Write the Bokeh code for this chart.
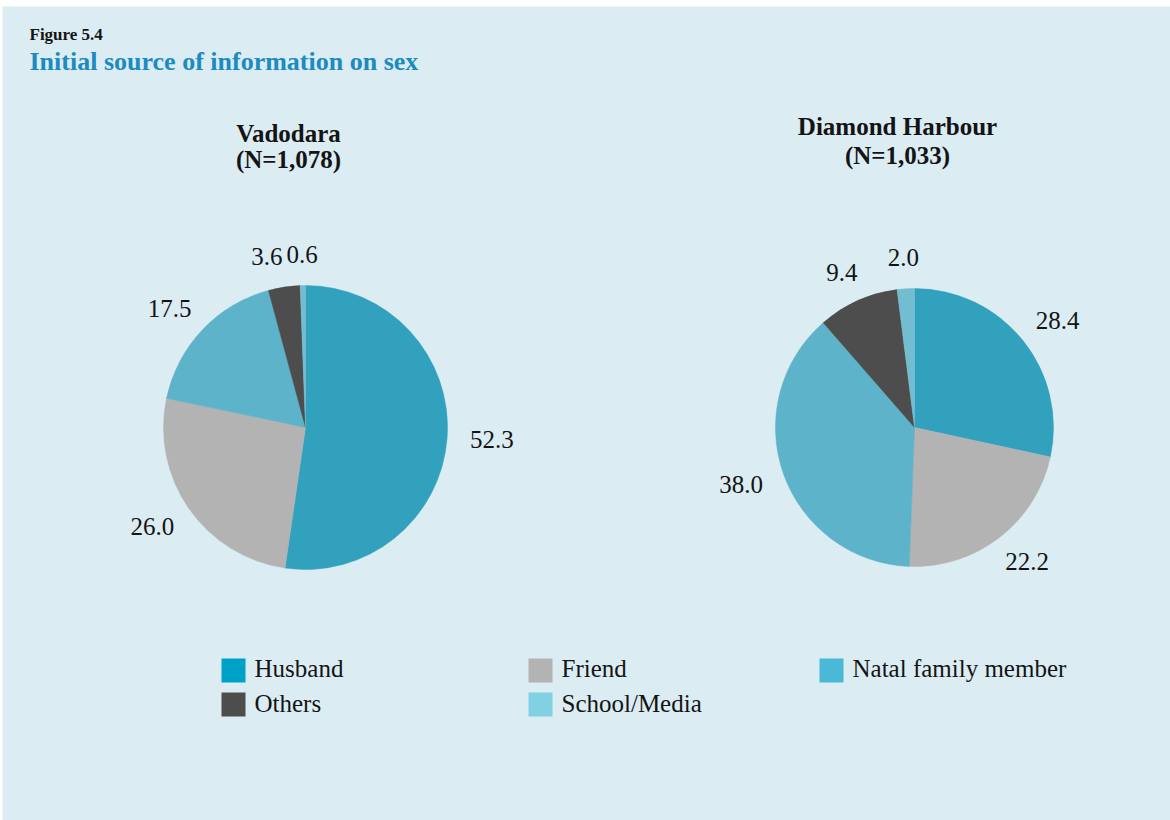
import math
from bokeh.plotting import figure
from bokeh.models import Range1d, ColumnDataSource
from bokeh.core.properties import value
from bokeh.embed import file_html
from bokeh.resources import INLINE

# ---------------- data ----------------
categories = ["Husband", "Friend", "Natal family member", "Others", "School/Media"]
vadodara = [52.3, 26.0, 17.5, 3.6, 0.6]
diamond_harbour = [28.4, 22.2, 38.0, 9.4, 2.0]
pie_titles = ["Vadodara", "Diamond Harbour"]
pie_ns = ["(N=1,078)", "(N=1,033)"]
figure_label = "Figure 5.4"
chart_title = "Initial source of information on sex"

# ---------------- style ----------------
BG = "#dbecf3"
slice_colors = ["#31a1bd", "#b3b3b3", "#5db3c9", "#4d4d4d", "#72bdd0"]
legend_colors = ["#00a1c8", "#b3b3b3", "#4ab9d7", "#4d4d4d", "#80d1e4"]
FONT = "Liberation Serif"
TXT = "#141414"
W, H = 1170, 820


def sx(X):  # screen pixel -> data x
    return X


def sy(Y):  # screen pixel -> data y (y up)
    return H - Y


p = figure(width=W, height=H, x_range=Range1d(0, W), y_range=Range1d(0, H),
           output_backend="svg", toolbar_location=None, min_border=0,
           background_fill_color="white", border_fill_color="white",
           outline_line_color=None)
p.axis.visible = False
p.grid.visible = False

# panel
p.quad(left=sx(2), right=sx(1170), top=sy(6), bottom=sy(820),
       fill_color=BG, line_color=None)

# header
p.text(x=[sx(29)], y=[sy(34)], text=[figure_label], text_font=value(FONT),
       text_font_style="bold", text_font_size="17px", text_color=TXT,
       text_baseline="middle", text_align="left")
p.text(x=[sx(29)], y=[sy(61)], text=[chart_title], text_font=value(FONT),
       text_font_style="bold", text_font_size="26px", text_color="#1b8bc0",
       text_baseline="middle", text_align="left")

LABEL_PX = 25


def text_w(s):
    w = 0.0
    for ch in s:
        w += 0.25 if ch in ".," else 0.5
    return w * LABEL_PX


# pies
pie_series = [vadodara, diamond_harbour]
centers = [(305, 427), (914, 427)]
radii = [142, 139]
title_mid = [(133, 159), (126, 155)]
title_dx = -17
for k, vals in enumerate(pie_series):
    cx, cy = sx(centers[k][0]), sy(centers[k][1])
    R = radii[k]
    total = sum(vals)
    cum = 0.0
    starts, ends, lx, ly, lt, lw = [], [], [], [], [], []
    for v in vals:
        a0 = cum / total
        a1 = (cum + v) / total
        starts.append(math.pi / 2 - 2 * math.pi * a0)
        ends.append(math.pi / 2 - 2 * math.pi * a1)
        th = 2 * math.pi * (a0 + a1) / 2
        s, c = math.sin(th), math.cos(th)
        t = f"{v:.1f}"
        w = text_w(t)
        d = R + 21
        lx.append(cx + d * s + (w / 2 + 2) * s)
        ly.append(cy + d * c + 10 * c)
        lt.append(t)
        lw.append(w)
        cum += v
    # simple collision avoidance: push earlier label away from the next one
    for i in range(len(lt) - 2, -1, -1):
        j = i + 1
        ox = (lw[i] + lw[j]) / 2 + 4 - abs(lx[i] - lx[j])
        oy = 22 - abs(ly[i] - ly[j])
        if ox > 0 and oy > 0:
            lx[i] += -ox if lx[i] <= lx[j] else ox
    src = ColumnDataSource(dict(start=starts, end=ends, color=slice_colors, label=categories))
    p.wedge(x=cx, y=cy, radius=R, start_angle="start", end_angle="end",
            direction="clock", fill_color="color", line_color="color",
            line_width=0.5, source=src)
    p.text(x=lx, y=ly, text=lt, text_font=value(FONT), text_font_size=f"{LABEL_PX}px",
           text_color=TXT, text_align="center", text_baseline="middle")
    tx = cx + title_dx
    p.text(x=[tx, tx], y=[sy(title_mid[k][0]), sy(title_mid[k][1])],
           text=[pie_titles[k], pie_ns[k]], text_font=value(FONT),
           text_font_style="bold", text_font_size="25px", text_color=TXT,
           text_align="center", text_baseline="middle")

# legend (3 columns, 2 rows)
col_left = [221, 528, 819]
row_top = [658, 692]
row_mid = [668, 703]
SQ = 24
rx, ry, tx, ty = [], [], [], []
for i, name in enumerate(categories):
    r, c = divmod(i, 3)
    rx.append(sx(col_left[c]) + SQ / 2)
    ry.append(sy(row_top[r]) - SQ / 2)
    tx.append(sx(col_left[c]) + 33)
    ty.append(sy(row_mid[r]))
p.rect(x=rx, y=ry, width=SQ, height=SQ, fill_color=legend_colors, line_color=None)
p.text(x=tx, y=ty, text=categories, text_font=value(FONT), text_font_size="25px",
       text_color=TXT, text_align="left", text_baseline="middle")

open("out.html", "w").write(file_html(p, INLINE))
